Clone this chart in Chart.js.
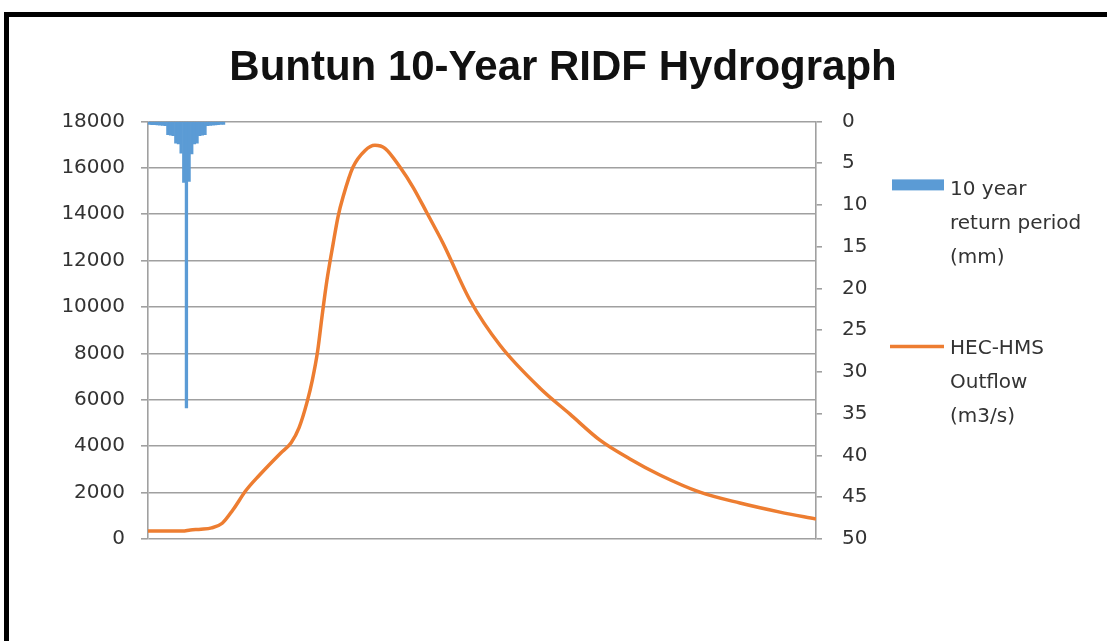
<!DOCTYPE html>
<html>
<head>
<meta charset="utf-8">
<title>Buntun 10-Year RIDF Hydrograph</title>
<script src="https://cdn.jsdelivr.net/npm/chart.js@4.4.1/dist/chart.umd.min.js"></script>
<style>
  html, body { margin: 0; padding: 0; background: #fff; overflow: hidden; }
  .frame {
    position: absolute; left: 4px; top: 12px; width: 1200px; height: 700px;
    border-left: 5px solid #000; border-top: 5px solid #000;
  }
  #hydro { position: absolute; left: 0; top: 0; }
</style>
</head>
<body>
<div class="frame"></div>
<canvas id="hydro" width="1107" height="641"></canvas>
<script>
// rainfall blocks (time step midpoints, mm per step)
let rainTime = [0.5, 1.5, 2.5, 3.5, 4.5, 5.5, 6.5, 7.5, 8.5, 9.5, 10.5, 11.5, 12.5, 13.5, 14.5,
                15.5, 16.5, 17.5, 18.5, 19.5, 20.5, 21.5, 22.5, 23.5, 24.5, 25.5, 26.5, 27.5, 28.5];
let rainDepth = [0.35, 0.38, 0.4, 0.42, 0.45, 0.48, 0.52, 1.6, 1.65, 1.7, 2.6, 2.7, 3.8, 7.3, 34.3,
                 7.2, 3.9, 2.7, 2.6, 1.7, 1.65, 1.6, 0.5, 0.47, 0.44, 0.42, 0.4, 0.37, 0.35];

// HEC-HMS outflow (m3/s)
let flowTime = [0, 13, 16, 20, 24, 28, 32, 37, 42, 50, 54, 57, 60, 62, 64, 65.6, 67.5, 69.8, 71.7, 73.6,
                77.3, 81.9, 85.6, 89.4, 95.1, 100, 105.3, 111.3, 121.5, 132.8, 147.9, 159.2, 170.5,
                181.8, 193.1, 208.2, 223.3, 238.4, 252];
let flowRate = [345, 345, 390, 420, 480, 680, 1250, 2100, 2750, 3700, 4150, 4800, 5900, 6850, 8100,
                9550, 11150, 12700, 13900, 14750, 16020, 16750, 16970, 16840, 16020, 15160, 14040,
                12750, 10290, 8350, 6500, 5380, 4260, 3450, 2760, 2020, 1550, 1160, 860];

let flowTicks = [0, 2000, 4000, 6000, 8000, 10000, 12000, 14000, 16000, 18000];
let rainTicks = [0, 5, 10, 15, 20, 25, 30, 35, 40, 45, 50];

let gridGrey = '#a0a0a0';
let tickFont = { family: 'DejaVu Sans', size: 20 };

// legend drawn to the right of the plot, one block per dataset, label split on '\n'
let sideLegend = {
  id: 'sideLegend',
  afterDraw: function(chart, args, opts) {
    let ctx = chart.ctx;
    let area = chart.chartArea;
    ctx.save();
    ctx.font = opts.size + 'px ' + opts.family;
    ctx.fillStyle = opts.color;
    ctx.textBaseline = 'middle';
    chart.data.datasets.forEach(function(ds, i) {
      let y0 = area.top + opts.rows[i];
      let sx = area.right + opts.swatchX;
      if (ds.type == 'bar') {
        ctx.fillStyle = ds.backgroundColor;
        ctx.fillRect(sx, y0 - 8, opts.swatchW, 11);
      } else {
        ctx.strokeStyle = ds.borderColor;
        ctx.lineWidth = ds.borderWidth;
        ctx.beginPath();
        ctx.moveTo(sx - 2, y0);
        ctx.lineTo(sx + opts.swatchW, y0);
        ctx.stroke();
      }
      ctx.fillStyle = opts.color;
      ds.label.split('\n').forEach(function(line, j) {
        ctx.fillText(line, area.right + opts.textX, y0 + 2 + j * opts.lineGap);
      });
    });
    ctx.restore();
  }
};

let plainNumber = function(v) { return v.toString(); };

let hydroChart = new Chart(document.getElementById('hydro'), {
  data: {
    datasets: [{
      type: 'bar',
      label: '10 year\nreturn period\n(mm)',
      data: rainTime.map(function(t, i) { return { x: t, y: rainDepth[i] }; }),
      backgroundColor: '#5b9bd5',
      borderWidth: 0,
      barPercentage: 1.0,
      categoryPercentage: 1.0,
      yAxisID: 'y1'
    }, {
      type: 'line',
      label: 'HEC-HMS\nOutflow\n(m3/s)',
      data: flowTime.map(function(t, i) { return { x: t, y: flowRate[i] }; }),
      borderColor: '#ed7d31',
      borderWidth: 3.5,
      pointRadius: 0,
      cubicInterpolationMode: 'monotone',
      yAxisID: 'y'
    }]
  },
  options: {
    responsive: false,
    animation: false,
    layout: { padding: { left: 19, right: 0, top: 0, bottom: 102 } },
    scales: {
      x: { type: 'linear', min: 0, max: 252, offset: false, display: false },
      y: {
        position: 'left',
        min: 0, max: 18000,
        afterBuildTicks: function(s) { s.ticks = flowTicks.map(function(v) { return { value: v }; }); },
        afterFit: function(s) { s.width = 129; },
        grid: { color: gridGrey, lineWidth: 1.6, tickLength: 7 },
        border: { color: gridGrey, width: 1.6 },
        ticks: { font: tickFont, color: '#333', padding: 16, callback: plainNumber }
      },
      y1: {
        position: 'right',
        reverse: true,
        min: 0, max: 50,
        afterBuildTicks: function(s) { s.ticks = rainTicks.map(function(v) { return { value: v }; }); },
        afterFit: function(s) { s.width = 291; },
        grid: { drawOnChartArea: false, color: gridGrey, lineWidth: 1.6, tickLength: 6 },
        border: { color: gridGrey, width: 1.6 },
        ticks: { font: tickFont, color: '#333', padding: 20, callback: plainNumber }
      }
    },
    plugins: {
      legend: { display: false },
      tooltip: { enabled: false },
      title: {
        display: true,
        text: 'Buntun 10-Year RIDF Hydrograph',
        color: '#111',
        font: { family: 'Liberation Sans', size: 42, weight: 'bold' },
        padding: { top: 43, bottom: 28 }
      },
      sideLegend: {
        family: 'DejaVu Sans', size: 20, color: '#333',
        rows: [66, 225], lineGap: 34,
        swatchX: 76, swatchW: 52, textX: 134
      }
    }
  },
  plugins: [sideLegend]
});
</script>
</body>
</html>
